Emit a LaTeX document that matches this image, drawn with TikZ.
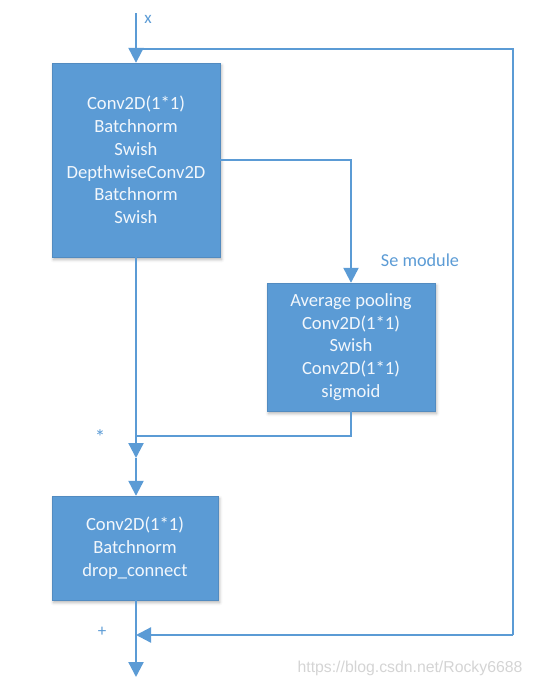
\documentclass[tikz,border=0pt]{standalone}
\usepackage{fontspec}
\setmainfont{Carlito}
\newfontfamily\wmfont{Liberation Sans}
\usetikzlibrary{arrows.meta,shadows.blur}
\definecolor{officeblue}{HTML}{5B9BD5}
\definecolor{boxtext}{HTML}{F2F7FC}
\definecolor{wmgray}{HTML}{D4D4D4}
\begin{document}
\begin{tikzpicture}[x=1pt,y=-1pt,
  blockbox/.style={draw=officeblue!90!black, line width=0.4pt, fill=officeblue, text=boxtext,
    align=center, inner sep=0pt, font=\fontsize{18.6}{22.8}\selectfont,
    blur shadow={shadow xshift=1.5pt, shadow yshift=-2.5pt, shadow blur radius=3pt, shadow opacity=30}},
  conn/.style={draw=officeblue, line width=2.3pt},
  arr/.style={conn, -{Triangle[width=15pt,length=15pt]}},
  lbl/.style={text=officeblue, inner sep=0pt, font=\fontsize{17}{19}\selectfont},
]
\useasboundingbox (0,0) rectangle (533,686);

\node[blockbox, minimum width=168, minimum height=194] (b1) at (136,160)
  {Conv2D(1*1)\\Batchnorm\\Swish\\DepthwiseConv2D\\Batchnorm\\Swish};
\node[blockbox, minimum width=168, minimum height=128] (se) at (351,347)
  {Average pooling\\Conv2D(1*1)\\Swish\\Conv2D(1*1)\\sigmoid};
\node[blockbox, minimum width=166, minimum height=104] (b2) at (135,548)
  {Conv2D(1*1)\\Batchnorm\\drop\_connect};

\coordinate (xin) at (136,13);
\coordinate (s0) at (143,49);
\coordinate (s2) at (513,635);
\coordinate (j2) at (136,635);
\coordinate (j1) at (136,436);
\coordinate (m1) at (136,458);
\coordinate (out) at (136,677);

\draw[arr] (xin) -- (b1.north);
\draw[conn] (s0) -| (s2);
\draw[arr] (s2) -- (j2);
\draw[arr] (b1.east) -| (se.north);
\draw[conn] (se.south) |- (j1);
\draw[arr] (b1.south) -- (m1);
\draw[arr] (m1) -- (b1.south |- b2.north);
\draw[arr] (b1.south |- b2.south) -- (out);

\node[lbl] (lx) at (148,19) {x};
\node[lbl, font=\fontsize{21}{23}\selectfont] (lstar) at (100,437) {*};
\node[lbl] (lplus) at (102,632) {+};
\node[lbl, font=\fontsize{18.2}{20}\selectfont] (lse) at (420,260) {Se module};
\node[text=wmgray, inner sep=0pt, font=\wmfont\fontsize{15.8}{18}\selectfont] (wm) at (410,668) {https://blog.csdn.net/Rocky6688};
\end{tikzpicture}
\end{document}
